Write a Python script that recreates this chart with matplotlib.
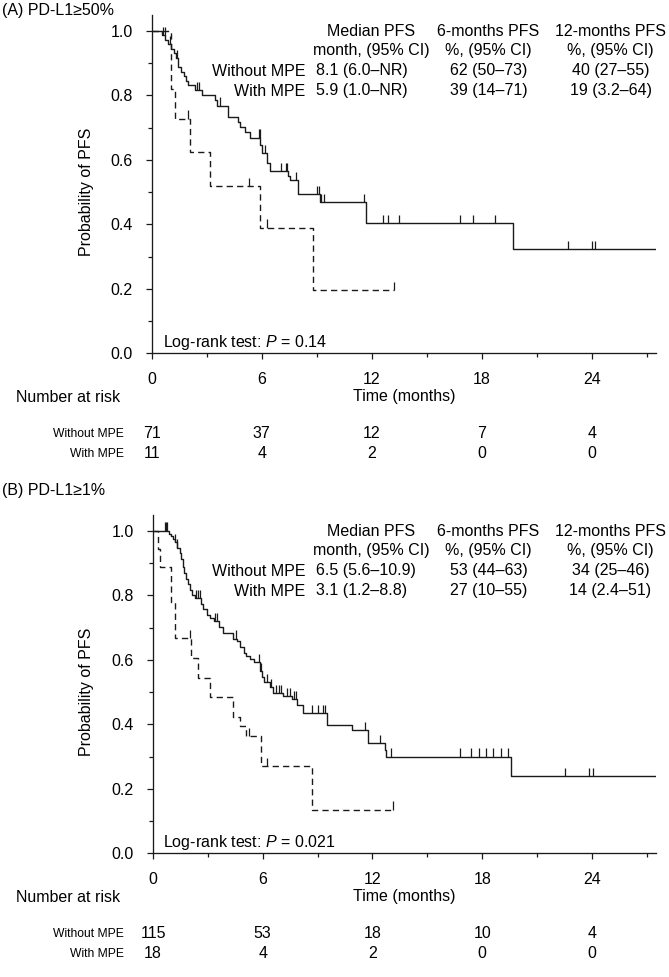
import numpy as np
import matplotlib
matplotlib.use("Agg")
import matplotlib.pyplot as plt
from matplotlib.transforms import blended_transform_factory

plt.rcParams['font.family'] = ['Liberation Sans', 'DejaVu Sans']
plt.rcParams['mathtext.fontset'] = 'custom'
plt.rcParams['mathtext.rm'] = 'Liberation Sans'
plt.rcParams['mathtext.it'] = 'Liberation Sans:italic'

W, H = 669, 977

# shared labels
groups = ["Without MPE", "With MPE"]
headers = [("Median PFS", "month, (95% CI)"),
           ("6-months PFS", "%, (95% CI)"),
           ("12-months PFS", "%, (95% CI)")]
risk_times = [0, 6, 12, 18, 24]

# ---- panel A: PD-L1 >= 50%
a_title = "(A) PD-L1≥50%"
a_wo_t = [0.55, 0.75, 0.9, 1.05, 1.2, 1.35, 1.45, 1.6, 1.75, 1.85, 2.0, 2.35, 2.75,
          3.45, 3.55, 4.15, 4.7, 4.8, 5.07, 5.34, 5.93, 6.0, 6.3, 6.45, 7.44, 7.55,
          7.98, 9.16, 11.7, 19.7]
a_wo_s = [0.986, 0.972, 0.958, 0.944, 0.930, 0.915, 0.887, 0.873, 0.859, 0.845, 0.831,
          0.816, 0.800, 0.785, 0.768, 0.733, 0.718, 0.703, 0.687, 0.668, 0.646, 0.620,
          0.590, 0.564, 0.551, 0.537, 0.494, 0.469, 0.403, 0.322]
a_wo_cens = [0.63, 0.7, 1.0, 1.4, 2.45, 2.6, 3.75, 5.85, 5.9, 6.2, 7.05, 7.35, 7.4,
             7.85, 9.0, 9.1, 9.25, 9.4, 11.6, 12.6, 12.86, 13.5, 16.8, 17.5, 18.7,
             22.7, 24.0, 24.2]
a_w_t = [1.05, 1.27, 2.08, 3.17, 5.9, 8.8]
a_w_s = [0.818, 0.727, 0.623, 0.519, 0.389, 0.195]
a_w_cens = [2.0, 5.3, 6.3, 13.2]
a_stats = [["8.1 (6.0–NR)", "62 (50–73)", "40 (27–55)"],
           ["5.9 (1.0–NR)", "39 (14–71)", "19 (3.2–64)"]]
a_p = "0.14"
a_risk = [[71, 37, 12, 7, 4], [11, 4, 2, 0, 0]]

# ---- panel B: PD-L1 >= 1%
b_title = "(B) PD-L1≥1%"
b_wo_t = [0.9, 1.0, 1.1, 1.2, 1.3, 1.45, 1.55, 1.62, 1.68, 1.8, 1.9, 2.0, 2.15, 2.3,
          2.6, 2.75, 2.95, 3.1, 3.35, 3.6, 3.8, 4.35, 4.6, 4.75, 4.95, 5.1, 5.3, 5.5,
          5.85, 5.95, 6.05, 6.4, 6.55, 7.1, 7.6, 7.9, 8.2, 9.5, 10.86, 11.76, 12.66,
          12.75, 19.57]
b_wo_s = [0.991, 0.983, 0.974, 0.965, 0.948, 0.930, 0.913, 0.887, 0.870, 0.852, 0.835,
          0.817, 0.800, 0.791, 0.773, 0.756, 0.738, 0.729, 0.720, 0.702, 0.684, 0.666,
          0.657, 0.639, 0.621, 0.612, 0.603, 0.593, 0.565, 0.548, 0.530, 0.515, 0.497,
          0.488, 0.477, 0.460, 0.434, 0.398, 0.382, 0.341, 0.320, 0.299, 0.239]
b_wo_cens = [0.65, 0.7, 0.75, 1.2, 1.3, 2.35, 2.45, 2.55, 3.4, 3.5, 4.55, 5.8, 5.9,
             6.25, 6.45, 6.7, 6.9, 7.0, 7.3, 7.5, 7.7, 7.8, 8.7, 9.0, 9.3, 9.4, 11.6,
             12.4, 13.0, 16.8, 17.4, 17.8, 18.2, 18.6, 19.0, 19.4, 22.5, 23.85, 24.07]
b_w_t = [0.3, 0.4, 1.0, 1.2, 2.1, 2.45, 3.1, 4.37, 4.75, 5.1, 5.9, 8.7]
b_w_s = [0.944, 0.889, 0.778, 0.667, 0.606, 0.545, 0.485, 0.424, 0.394, 0.364, 0.270, 0.135]
b_w_cens = [2.0, 5.26, 6.25, 13.1]
b_stats = [["6.5 (5.6–10.9)", "53 (44–63)", "34 (25–46)"],
           ["3.1 (1.2–8.8)", "27 (10–55)", "14 (2.4–51)"]]
b_p = "0.021"
b_risk = [[115, 53, 18, 10, 4], [18, 4, 2, 0, 0]]

XMAX = 27.5
LC = '#1a1a1a'


def fx(px):
    return px / W


def fy(py):
    return 1 - py / H


def km(ax, t, s, cens, end, dashed):
    x = np.r_[0, t, end]
    y = np.r_[1, s, s[-1]]
    ls = (0, (4.5, 3)) if dashed else '-'
    ax.step(x, y, where='post', color=LC, lw=1.0, ls=ls)
    # censor marks sit on top of the curve
    idx = np.searchsorted(x, cens, side='right') - 1
    cy = y[idx]
    ax.vlines(cens, cy, cy + 0.026, color=LC, lw=0.9)


def panel(fig, dy, title_y, left, title, wo, w, stats, p, risk):
    ax = fig.add_axes([fx(left), fy(353.3 + dy), fx(656 - left), (353.3 - 15) / H])
    km(ax, *wo, end=XMAX, dashed=False)
    km(ax, *w, end=w[2][-1], dashed=True)
    ax.set_xlim(0, XMAX)
    ax.set_ylim(0, 1.049)
    ax.set_xticks(risk_times)
    ax.set_xticks(np.arange(3, 28, 6), minor=True)
    ax.set_yticks(np.arange(0, 1.01, 0.2))
    ax.set_yticks(np.arange(0.1, 1.0, 0.2), minor=True)
    ax.yaxis.set_major_formatter(matplotlib.ticker.FormatStrFormatter('%.1f'))
    ax.tick_params(which='major', length=4.3, width=0.9, pad=9.4, labelsize=11.5, color=LC)
    ax.tick_params(which='minor', length=2.9, width=0.9, color=LC)
    for sp in ['top', 'right']:
        ax.spines[sp].set_visible(False)
    for sp in ['left', 'bottom']:
        ax.spines[sp].set_linewidth(0.95)
        ax.spines[sp].set_color(LC)

    fs = 11.5
    fig.text(fx(2), fy(title_y), title, fontsize=fs, ha='left', va='center')
    fig.text(fx(86), fy(192 + dy), "Probability of PFS", fontsize=fs, rotation=90,
             ha='center', va='center')

    # summary table in the top right
    col_c = [371, 488.5, 610.5]
    for c, (h1, h2) in zip(col_c, headers):
        fig.text(fx(c), fy(31 + dy), h1, fontsize=fs, ha='center', va='center')
        fig.text(fx(c), fy(51 + dy), h2, fontsize=fs, ha='center', va='center')
    for r, (g, row) in enumerate(zip(groups, stats)):
        yy = fy(71 + 20 * r + dy)
        fig.text(fx(305), yy, g, fontsize=fs, ha='right', va='center')
        fig.text(fx(316), yy, row[0], fontsize=fs, ha='left', va='center')
        fig.text(fx(col_c[1]), yy, row[1], fontsize=fs, ha='center', va='center')
        fig.text(fx(col_c[2]), yy, row[2], fontsize=fs, ha='center', va='center')

    fig.text(fx(163), fy(343 + dy), r"Log-rank test: $P$ = " + p, fontsize=fs,
             ha='left', va='center')

    fig.text(fx((left + 656) / 2), fy(397 + dy), "Time (months)", fontsize=fs,
             ha='center', va='center')
    fig.text(fx(16), fy(398 + dy), "Number at risk", fontsize=fs, ha='left', va='center')
    tr = blended_transform_factory(ax.transData, fig.transFigure)
    for r, (g, nums) in enumerate(zip(groups, risk)):
        yy = fy(434 + 20 * r + dy)
        fig.text(fx(124), yy, g, fontsize=8.7, ha='right', va='center')
        for t, n in zip(risk_times, nums):
            ax.text(t, yy, str(n), transform=tr, fontsize=fs, ha='center', va='center')
    return ax


fig = plt.figure(figsize=(W / 100, H / 100), dpi=100)
panel(fig, 0, 11, 151.7, a_title, (a_wo_t, a_wo_s, a_wo_cens), (a_w_t, a_w_s, a_w_cens),
      a_stats, a_p, a_risk)
panel(fig, 500, 491, 153, b_title, (b_wo_t, b_wo_s, b_wo_cens), (b_w_t, b_w_s, b_w_cens),
      b_stats, b_p, b_risk)
fig.savefig("out.png", dpi=100)
